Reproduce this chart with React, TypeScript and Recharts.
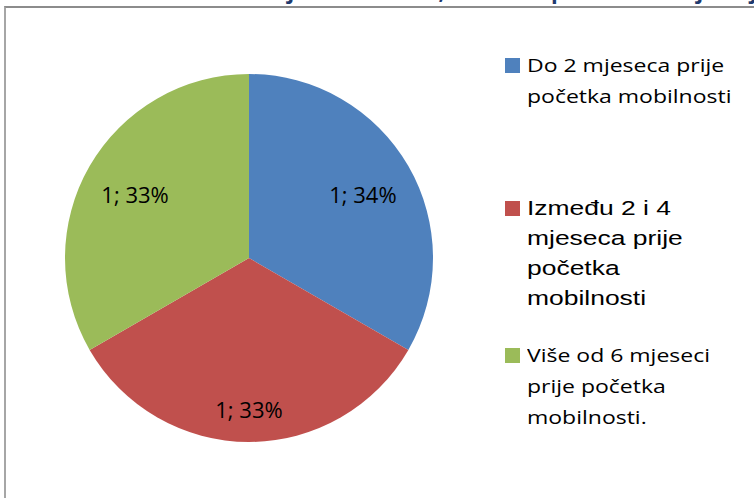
import { Cell, Legend, Pie, PieChart } from 'recharts';

const categories = [
  ['Do 2 mjeseca prije', 'početka mobilnosti'],
  ['Između 2 i 4', 'mjeseca prije', 'početka', 'mobilnosti'],
  ['Više od 6 mjeseci', 'prije početka', 'mobilnosti.'],
];
const values = [1, 1, 1];
const percentLabels = ['34%', '33%', '33%'];
const colors = ['#4F81BD', '#C0504D', '#9BBB59'];
const titleText =
  'Kada ste dobili obavijest o odabiru, odnosno potvrdu o smještaju u inozemstvu?';

const data = categories.map((lines, i) => ({
  name: lines.join(' '),
  value: values[i],
  pct: percentLabels[i],
}));

const RADIAN = Math.PI / 180;

const renderLabel = (props: any) => {
  const { cx, cy, midAngle, outerRadius, index } = props;
  const s = Math.sin(-midAngle * RADIAN);
  const c = Math.cos(-midAngle * RADIAN);
  // labels on the sides sit a bit closer to the centre than the bottom one
  const r = outerRadius * (0.62 + 0.19 * Math.abs(s));
  return (
    <text
      x={cx + r * c}
      y={cy + r * s + 2}
      fill="#000"
      fontFamily="Open Sans"
      fontSize={22}
      textAnchor="middle"
      dominantBaseline="central"
    >
      {`${values[index]}; ${percentLabels[index]}`}
    </text>
  );
};

// per-entry layout of the legend, the original mixes two text styles
const legendTops = [50, 193, 340];
const legendSquares = [58, 201, 348];
const legendFonts = [
  { fontFamily: 'Open Sans', fontSize: 19, lineHeight: '31px', transform: 'scaleX(1.21)' },
  { fontFamily: 'Liberation Sans', fontSize: 20.5, lineHeight: '30px', transform: 'scaleX(1.29)' },
  { fontFamily: 'Open Sans', fontSize: 19, lineHeight: '31px', transform: 'scaleX(1.21)' },
];

const renderLegend = (props: any) => {
  const { payload } = props;
  return (
    <div style={{ position: 'relative', width: 754, height: 498 }}>
      {(payload || []).map((entry: any, i: number) => (
        <div key={i}>
          <div
            style={{
              position: 'absolute',
              left: 505,
              top: legendSquares[i],
              width: 15,
              height: 15,
              background: entry.color,
            }}
          />
          <div
            style={{
              position: 'absolute',
              left: 527,
              top: legendTops[i],
              color: '#000',
              whiteSpace: 'nowrap',
              textAlign: 'left',
              transformOrigin: 'left top',
              ...legendFonts[i],
            }}
          >
            {categories[i].map((line) => (
              <div key={line}>{line}</div>
            ))}
          </div>
        </div>
      ))}
    </div>
  );
};

export default function App() {
  return (
    <div
      style={{
        position: 'absolute',
        left: 0,
        top: 0,
        width: 754,
        height: 498,
        overflow: 'hidden',
        background: '#fff',
      }}
    >
      <svg width={754} height={20} style={{ position: 'absolute', left: 0, top: 0 }}>
        <text
          x={60}
          y={-1}
          fill="#1F3A6E"
          fontFamily="Open Sans"
          fontWeight="bold"
          fontSize={22}
        >
          {titleText}
        </text>
      </svg>
      <div
        style={{
          position: 'absolute',
          left: 4,
          top: 6,
          width: 800,
          height: 600,
          borderTop: '2px solid #8C8C8C',
          borderLeft: '2px solid #A6A6A6',
        }}
      />
      <div style={{ position: 'absolute', left: 0, top: 0 }}>
        <PieChart width={754} height={498} margin={{ top: 0, right: 0, bottom: 0, left: 0 }}>
          <Pie
            data={data}
            dataKey="value"
            nameKey="name"
            cx={249}
            cy={258}
            outerRadius={184}
            startAngle={90}
            endAngle={-270}
            stroke="none"
            label={renderLabel}
            labelLine={false}
            isAnimationActive={false}
          >
            {data.map((d, i) => (
              <Cell key={d.name} fill={colors[i]} />
            ))}
          </Pie>
          <Legend
            layout="vertical"
            align="right"
            verticalAlign="top"
            content={renderLegend}
            wrapperStyle={{ position: 'absolute', left: 0, top: 0, width: 754, height: 498 }}
          />
        </PieChart>
      </div>
    </div>
  );
}
